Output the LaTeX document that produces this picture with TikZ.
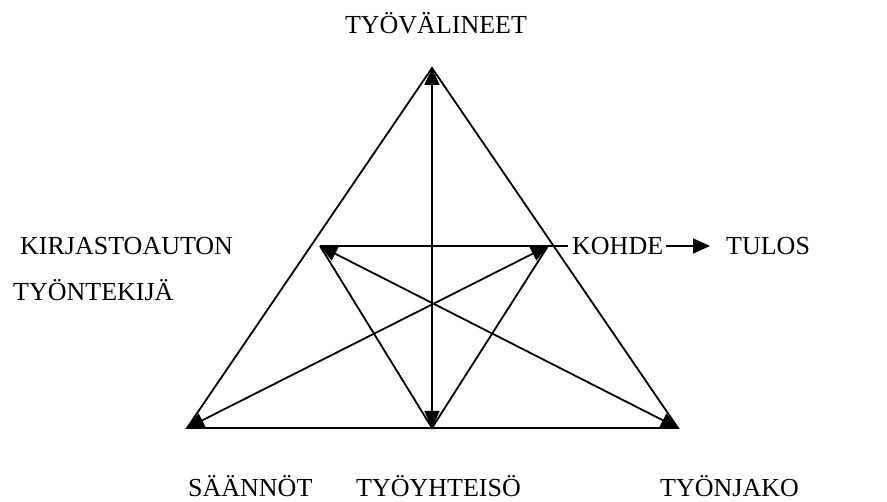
\documentclass[tikz,border=0pt]{standalone}
\usepackage{fontspec}
\setmainfont{Liberation Serif}
\usetikzlibrary{arrows.meta}
\begin{document}
\begin{tikzpicture}[x=1pt,y=-1pt,
  ln/.style={line width=1.8pt},
  tip/.style={-{Triangle[length=17pt,width=15pt]}},
  tips/.style={{Triangle[length=17pt,width=15pt]}-{Triangle[length=17pt,width=15pt]}},
  lbl/.style={font=\fontsize{26}{26}\selectfont, inner sep=0pt}]
\useasboundingbox (0,0) rectangle (887,502);
% corners
\coordinate (A) at (432,68);
\coordinate (BL) at (187,428);
\coordinate (BR) at (678,428);
\coordinate (BM) at (432,428);
\coordinate (IL) at (320,246);
\coordinate (IR) at (548,246);
\coordinate (HE) at (568,246);
% big triangle
\draw[ln] (A) -- (BL) -- (BR) -- cycle;
% inner inverted triangle
\draw[ln] (IL) -- (BM) -- (IR);
\draw[ln] (IL) -- (HE);
% arrows
\draw[ln,tips] (BM) -- (A);
\draw[ln,tips] (BR) -- (IL);
\draw[ln,tips] (BL) -- (IR);
% labels
\node[lbl, anchor=base] (tv) at (436,34) {TYÖVÄLINEET};
\node[lbl, anchor=base west] (ka) at (20,255) {KIRJASTOAUTON};
\node[lbl, anchor=base west] (tt) at (13,301) {TYÖNTEKIJÄ};
\node[lbl, anchor=base west] (ko) at (572,255) {KOHDE};
\node[lbl, anchor=base west] (tu) at (726,255) {TULOS};
\node[lbl, anchor=base west] (sa) at (188,497) {SÄÄNNÖT};
\node[lbl, anchor=base west] (ty) at (356,497) {TYÖYHTEISÖ};
\node[lbl, anchor=base west] (tj) at (660,497) {TYÖNJAKO};
\coordinate (kr) at ([xshift=3pt,yshift=9pt]ko.base east);
\coordinate (tl) at ([xshift=-16pt,yshift=9pt]tu.base west);
\draw[ln,tip] (kr) -- (tl);
\end{tikzpicture}
\end{document}
